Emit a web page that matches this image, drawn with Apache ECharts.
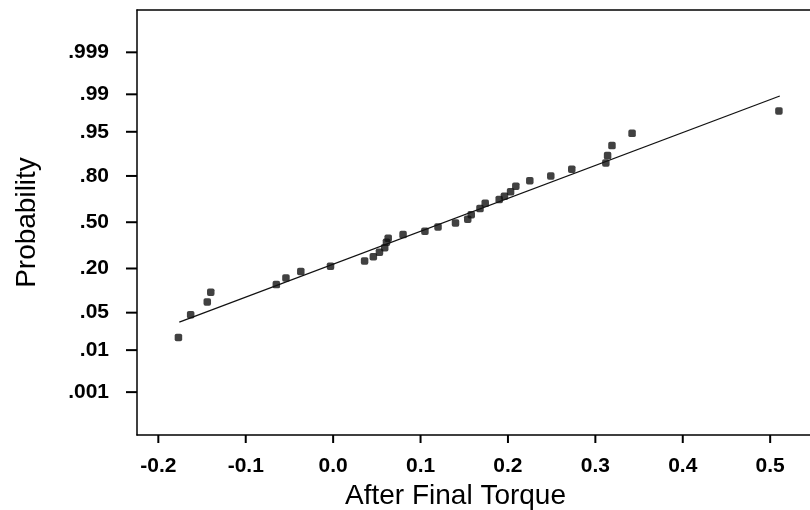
<!DOCTYPE html>
<html>
<head>
<meta charset="utf-8">
<title>Normal probability plot - After Final Torque</title>
<script src="https://cdn.jsdelivr.net/npm/echarts@6/dist/echarts.min.js"></script>
<style>
  html, body { margin: 0; padding: 0; background: #fff; }
  #chart { width: 810px; height: 510px; }
</style>
</head>
<body>
<div id="chart"></div>
<script>
// observed values (x) and their normal scores (plotting position in z units)
var torque = [-0.177, -0.163, -0.144, -0.140, -0.065, -0.054, -0.037, -0.003,
              0.036, 0.046, 0.053, 0.059, 0.061, 0.063, 0.080, 0.105, 0.120,
              0.140, 0.154, 0.158, 0.168, 0.174, 0.190, 0.196, 0.203, 0.209,
              0.225, 0.249, 0.273, 0.312, 0.314, 0.319, 0.342, 0.510];
var normalScore = [-2.096, -1.682, -1.449, -1.273, -1.133, -1.013, -0.896, -0.800,
                   -0.704, -0.627, -0.545, -0.464, -0.364, -0.291, -0.224, -0.164, -0.085,
                   -0.013, 0.055, 0.136, 0.249, 0.345, 0.415, 0.473, 0.555, 0.655,
                   0.755, 0.842, 0.964, 1.078, 1.213, 1.395, 1.618, 2.024];

// fitted line end points
var fitX = [-0.176, 0.511];
var fitZ = [-1.818, 2.296];

// tick labels
var probLabels = ['.001', '.01', '.05', '.20', '.50', '.80', '.95', '.99', '.999'];
var probValues = [0.001, 0.01, 0.05, 0.20, 0.50, 0.80, 0.95, 0.99, 0.999];
var xTicks = [-0.2, -0.1, 0.0, 0.1, 0.2, 0.3, 0.4, 0.5];

var xMin = -0.2244, xMax = 0.549;
var zMin = -3.87, zMax = 3.86;

// inverse normal cdf (Acklam) so the probability ticks sit on the z scale
function probit(p) {
    var a = [-3.969683028665376e+01, 2.209460984245205e+02, -2.759285104469687e+02,
             1.383577518672690e+02, -3.066479806614716e+01, 2.506628277459239e+00];
    var b = [-5.447609879822406e+01, 1.615858368580409e+02, -1.556989798598866e+02,
             6.680131188771972e+01, -1.328068155288572e+01];
    var c = [-7.784894002430293e-03, -3.223964580411365e-01, -2.400758277161838e+00,
             -2.549732539343734e+00, 4.374664141464968e+00, 2.938163982698783e+00];
    var d = [7.784695709041462e-03, 3.224671290700398e-01, 2.445134137142996e+00,
             3.754408661907416e+00];
    var q, r;
    if (p < 0.02425) {
        q = Math.sqrt(-2 * Math.log(p));
        return (((((c[0] * q + c[1]) * q + c[2]) * q + c[3]) * q + c[4]) * q + c[5]) /
               ((((d[0] * q + d[1]) * q + d[2]) * q + d[3]) * q + 1);
    }
    if (p > 1 - 0.02425) {
        q = Math.sqrt(-2 * Math.log(1 - p));
        return -(((((c[0] * q + c[1]) * q + c[2]) * q + c[3]) * q + c[4]) * q + c[5]) /
                ((((d[0] * q + d[1]) * q + d[2]) * q + d[3]) * q + 1);
    }
    q = p - 0.5;
    r = q * q;
    return (((((a[0] * r + a[1]) * r + a[2]) * r + a[3]) * r + a[4]) * r + a[5]) * q /
           (((((b[0] * r + b[1]) * r + b[2]) * r + b[3]) * r + b[4]) * r + 1);
}

var probTicks = probValues.map(probit);

function probLabel(v) {
    for (var i = 0; i < probTicks.length; i++) {
        if (Math.abs(probTicks[i] - v) < 1e-6) return probLabels[i];
    }
    return '';
}

var fontFamily = '"Liberation Sans", Arial, sans-serif';
var axisLineStyle = { color: '#000', width: 1.5 };

var chart = echarts.init(document.getElementById('chart'));
chart.setOption({
    backgroundColor: '#fff',
    animation: false,
    grid: {
        left: 137,
        top: 10,
        right: -3,
        bottom: 75,
        outerBoundsMode: 'none'
    },
    xAxis: [{
        type: 'value',
        position: 'bottom',
        min: xMin,
        max: xMax,
        name: 'After Final Torque',
        nameLocation: 'middle',
        nameGap: 42,
        nameTextStyle: {
            color: '#000',
            fontSize: 28,
            fontFamily: fontFamily,
            padding: [0, 39, 0, 0]
        },
        axisLine: { show: true, onZero: false, lineStyle: axisLineStyle },
        axisTick: { show: false },
        axisLabel: {
            customValues: xTicks,
            margin: 21,
            color: '#000',
            fontSize: 21,
            fontWeight: 'bold',
            fontFamily: fontFamily,
            formatter: function (v) { return v.toFixed(1); }
        },
        splitLine: { show: false }
    }, {
        // top frame line only
        type: 'value',
        position: 'top',
        min: xMin,
        max: xMax,
        axisLine: { show: true, onZero: false, lineStyle: axisLineStyle },
        axisTick: { show: false },
        axisLabel: { show: false },
        splitLine: { show: false }
    }],
    yAxis: {
        type: 'value',
        position: 'left',
        min: zMin,
        max: zMax,
        name: 'Probability',
        nameLocation: 'middle',
        nameRotate: 90,
        nameGap: 96,
        nameTextStyle: {
            color: '#000',
            fontSize: 28,
            fontFamily: fontFamily
        },
        axisLine: { show: true, onZero: false, lineStyle: axisLineStyle },
        axisTick: { show: false },
        axisLabel: {
            customValues: probTicks,
            margin: 28,
            color: '#000',
            fontSize: 21,
            fontWeight: 'bold',
            fontFamily: fontFamily,
            formatter: probLabel
        },
        splitLine: { show: false }
    },
    series: [
        {
            type: 'line',
            data: fitX.map(function (x, i) { return [x, fitZ[i]]; }),
            symbol: 'none',
            lineStyle: { color: '#111', width: 1.3 },
            z: 2
        },
        {
            type: 'scatter',
            data: torque.map(function (x, i) { return [x, normalScore[i]]; }),
            symbol: 'roundRect',
            symbolSize: 7.5,
            itemStyle: { color: '#111' },
            z: 3
        }
    ]
});

// outward tick marks, placed through the axes' own scales
var tickMarks = [];
probTicks.forEach(function (z) {
    var p = chart.convertToPixel({ xAxisIndex: 0, yAxisIndex: 0 }, [xMin, z]);
    tickMarks.push({
        type: 'line',
        shape: { x1: p[0] - 11, y1: p[1], x2: p[0], y2: p[1] },
        style: { stroke: '#000', lineWidth: 2 },
        z: 100
    });
});
xTicks.forEach(function (x) {
    var p = chart.convertToPixel({ xAxisIndex: 0, yAxisIndex: 0 }, [x, zMin]);
    tickMarks.push({
        type: 'line',
        shape: { x1: p[0], y1: p[1], x2: p[0], y2: p[1] + 8 },
        style: { stroke: '#000', lineWidth: 2 },
        z: 100
    });
});
chart.setOption({ graphic: tickMarks });
</script>
</body>
</html>
